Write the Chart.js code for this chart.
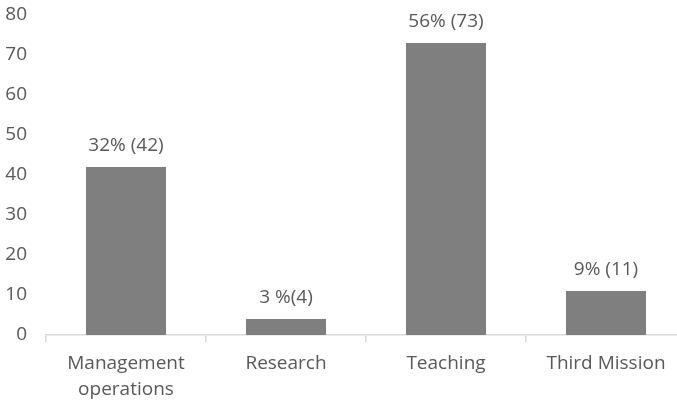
<!DOCTYPE html>
<html>
<head>
<meta charset="utf-8">
<script src="https://cdn.jsdelivr.net/npm/chart.js@4.4.0/dist/chart.umd.min.js"></script>
<style>
    html, body { margin: 0; padding: 0; overflow: hidden; background: #fff; }
    #wrap { width: 686px; height: 401px; }
</style>
</head>
<body>
<div id="wrap"><canvas id="barChart" width="686" height="401"></canvas></div>
<script>
const categories = [['Management', 'operations'], 'Research', 'Teaching', 'Third Mission'];
const counts = [42, 4, 73, 11];
const barLabels = ['32% (42)', '3 %(4)', '56% (73)', '9% (11)'];
const yTicks = [0, 10, 20, 30, 40, 50, 60, 70, 80];

const textColor = '#595959';
const fontFamily = '"Open Sans", sans-serif';

// подписи над столбцами
const valueLabels = {
    id: 'valueLabels',
    afterDatasetsDraw(chart) {
        const ctx = chart.ctx;
        const meta = chart.getDatasetMeta(0);
        ctx.save();
        ctx.font = '19px ' + fontFamily;
        ctx.fillStyle = textColor;
        ctx.textAlign = 'center';
        ctx.textBaseline = 'middle';
        meta.data.forEach((bar, i) => {
            ctx.fillText(barLabels[i], bar.x, bar.y - 21);
        });
        ctx.restore();
    }
};

const ctx = document.getElementById('barChart').getContext('2d');
const barChart = new Chart(ctx, {
    type: 'bar',
    data: {
        labels: categories,
        datasets: [{
            data: counts,
            backgroundColor: '#7f7f7f',
            borderWidth: 0,
            barPercentage: 0.5,
            categoryPercentage: 1
        }]
    },
    options: {
        responsive: false,
        animation: false,
        layout: { padding: { top: 15, left: 0, right: 0, bottom: 0 } },
        plugins: {
            legend: { display: false },
            tooltip: { enabled: false }
        },
        scales: {
            x: {
                grid: {
                    display: true,
                    drawOnChartArea: false,
                    drawTicks: true,
                    tickLength: 7,
                    color: '#d9d9d9',
                    lineWidth: 1.5
                },
                border: { display: true, color: '#d9d9d9', width: 1.5 },
                ticks: {
                    color: textColor,
                    font: { family: fontFamily, size: 19, lineHeight: 1.37 },
                    padding: 9,
                    maxRotation: 0
                },
                afterFit(scale) {
                    scale.height = 66;
                    scale.paddingLeft = 0;
                    scale.paddingRight = 0;
                }
            },
            y: {
                min: 0,
                max: 80,
                afterBuildTicks(scale) { scale.ticks = yTicks.map(v => ({ value: v })); },
                grid: { display: false },
                border: { display: false },
                ticks: {
                    color: textColor,
                    font: { family: fontFamily, size: 19 },
                    padding: 11
                },
                afterFit(scale) {
                    scale.width = 46;
                    scale.paddingTop = 0;
                    scale.paddingBottom = 0;
                }
            }
        }
    },
    plugins: [valueLabels]
});
</script>
</body>
</html>
